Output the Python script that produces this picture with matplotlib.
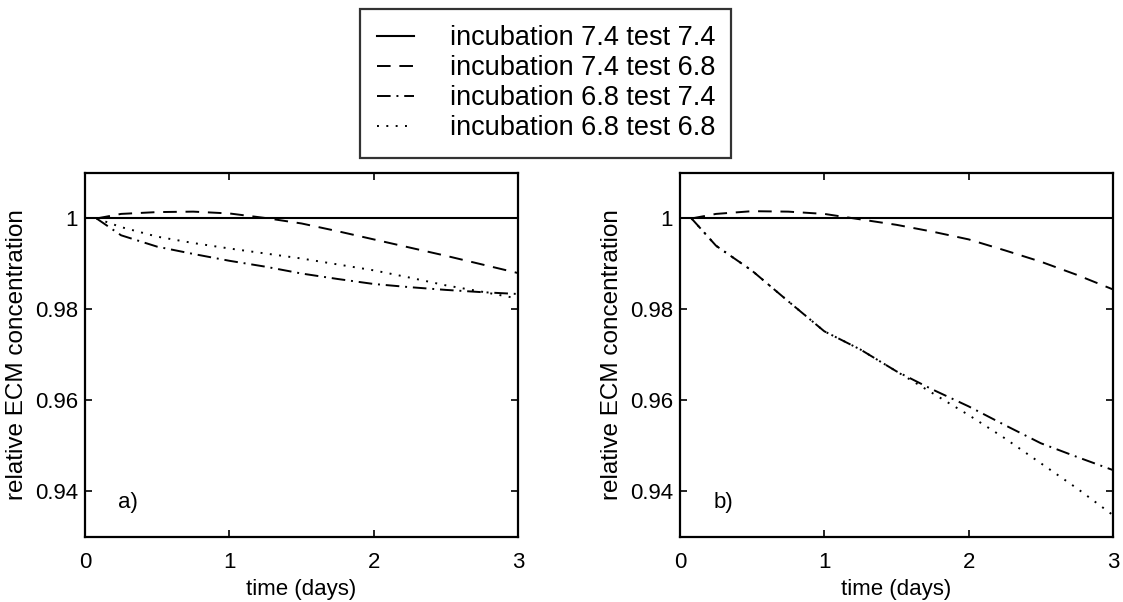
import numpy as np
import matplotlib
matplotlib.use("Agg")
import matplotlib.pyplot as plt

plt.rcParams['font.family'] = ['Liberation Sans', 'DejaVu Sans']

labels = ['incubation 7.4 test 7.4', 'incubation 7.4 test 6.8',
          'incubation 6.8 test 7.4', 'incubation 6.8 test 6.8']

t_flat = [0.0, 3.0]
flat = [1.0, 1.0]
t = [0.08, 0.25, 0.5, 0.75, 1.0, 1.25, 1.5, 1.75, 2.0, 2.25, 2.5, 2.75, 3.0]

# panel a)
a_74_68 = [1.0, 1.0010, 1.0014, 1.0015, 1.0011, 1.0001, 0.9989, 0.9972, 0.9954, 0.9936, 0.9918, 0.9899, 0.9880]
a_68_74 = [1.0, 0.9963, 0.9938, 0.9922, 0.9907, 0.9894, 0.9879, 0.9867, 0.9856, 0.9849, 0.9843, 0.9838, 0.9834]
a_68_68 = [1.0, 0.9981, 0.9960, 0.9946, 0.9934, 0.9923, 0.9912, 0.9899, 0.9886, 0.9870, 0.9853, 0.9839, 0.9824]

# panel b)
b_74_68 = [1.0, 1.0010, 1.0016, 1.0015, 1.0010, 0.9998, 0.9986, 0.9971, 0.9954, 0.9930, 0.9905, 0.9876, 0.9844]
b_68_74 = [1.0, 0.9940, 0.9885, 0.9818, 0.9752, 0.9712, 0.9664, 0.9624, 0.9587, 0.9546, 0.9506, 0.9476, 0.9447]
b_68_68 = [1.0, 0.9940, 0.9885, 0.9818, 0.9752, 0.9712, 0.9664, 0.9616, 0.9568, 0.9517, 0.9462, 0.9407, 0.9348]

styles = ['-', (0, (7, 4.5)), (0, (7, 3, 1, 3)), (0, (1, 3.8))]

fig = plt.figure(figsize=(11.23, 6.02), dpi=100)
ax1 = fig.add_axes([0.0757, 0.108, 0.3856, 0.6047])
ax2 = fig.add_axes([0.6055, 0.108, 0.3856, 0.6047])

panels = [(ax1, a_74_68, a_68_74, a_68_68, 'a)'),
          (ax2, b_74_68, b_68_74, b_68_68, 'b)')]

handles = []
for ax, s2, s3, s4, tag in panels:
    h1, = ax.plot(t_flat, flat, color='black', lw=1.5, ls=styles[0])
    h2, = ax.plot(t, s2, color='black', lw=1.4, ls=styles[1])
    h3, = ax.plot(t, s3, color='black', lw=1.4, ls=styles[2])
    h4, = ax.plot(t, s4, color='black', lw=1.4, ls=styles[3])
    handles = [h1, h2, h3, h4]
    ax.set_xlim(0, 3)
    ax.set_ylim(0.93, 1.01)
    ax.set_xticks([0, 1, 2, 3])
    ax.set_xticklabels(['0', '1', '2', '3'])
    ax.set_yticks([0.94, 0.96, 0.98, 1.0])
    ax.set_yticklabels(['0.94', '0.96', '0.98', '1'])
    ax.tick_params(direction='in', length=5, width=1.2, labelsize=16,
                   top=True, right=True)
    ax.tick_params(axis='x', pad=11)
    ax.tick_params(axis='y', pad=5)
    for sp in ax.spines.values():
        sp.set_linewidth(1.6)
    ax.set_xlabel('time (days)', fontsize=16, labelpad=4)
    ax.set_ylabel('relative ECM concentration', fontsize=17.5, labelpad=5)
    ax.text(0.23, 0.9376, tag, fontsize=16, va='center', ha='left')

leg = fig.legend(handles, labels, loc='upper center', bbox_to_anchor=(0.486, 0.985),
                 fontsize=19.5, frameon=True, fancybox=False, edgecolor='black',
                 handlelength=1.4, handletextpad=1.3, labelspacing=0.15,
                 borderpad=0.6, borderaxespad=0)
leg.get_frame().set_linewidth(1.6)

fig.savefig('out.png', dpi=100)
